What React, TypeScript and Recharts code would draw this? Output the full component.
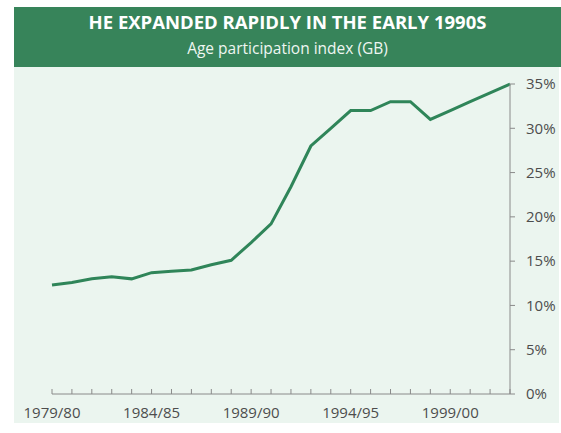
import { CartesianGrid, Line, LineChart, XAxis, YAxis } from 'recharts'

const years = [
  '1979/80', '1980/81', '1981/82', '1982/83', '1983/84', '1984/85', '1985/86', '1986/87',
  '1987/88', '1988/89', '1989/90', '1990/91', '1991/92', '1992/93', '1993/94', '1994/95',
  '1995/96', '1996/97', '1997/98', '1998/99', '1999/00', '2000/01', '2001/02', '2002/03',
]
const api = [
  12.3, 12.6, 13.0, 13.25, 13.0, 13.7, 13.85, 14.0, 14.6, 15.1, 17.1, 19.2,
  23.4, 28.0, 30.0, 32.0, 32.0, 33.0, 33.0, 31.0, 32.0, 33.0, 34.0, 35.0,
]
const yTicks = [0, 5, 10, 15, 20, 25, 30, 35]
const labelledYears = ['1979/80', '1984/85', '1989/90', '1994/95', '1999/00']

const theme = {
  header: '#37845a',
  panel: '#ebf5ef',
  line: '#2f8559',
  axis: '#8a8a8a',
  text: '#4d4d4d',
  font: '"Open Sans", sans-serif',
}

const data = years.map((year, i) => ({ year, value: api[i] }))

function YearTick({ x, y, payload }: { x?: number; y?: number; payload?: { value: string } }) {
  if (x == null || y == null || !payload) return null
  const show = labelledYears.includes(payload.value)
  return (
    <g>
      <line x1={x} x2={x} y1={y} y2={y - 5} stroke={theme.axis} strokeWidth={1} />
      {show && (
        <text
          x={x}
          y={y + 18}
          textAnchor="middle"
          dominantBaseline="central"
          fill={theme.text}
          fontSize={15}
          fontFamily={theme.font}
        >
          {payload.value}
        </text>
      )}
    </g>
  )
}

export default function App() {
  return (
    <div style={{ position: 'absolute', left: 0, top: 0, width: 561, height: 433, background: '#fff' }}>
      <div
        style={{
          position: 'absolute',
          left: 14,
          top: 7,
          width: 547,
          height: 60,
          background: theme.header,
          color: '#fff',
          fontFamily: theme.font,
          textAlign: 'center',
        }}
      >
        <div style={{ position: 'absolute', left: 0, right: 0, top: 4, fontSize: 18.5, fontWeight: 700, lineHeight: '22px' }}>
          HE EXPANDED RAPIDLY IN THE EARLY 1990S
        </div>
        <div style={{ position: 'absolute', left: 0, right: 0, top: 31, fontSize: 15.5, lineHeight: '20px', color: '#eef6f1' }}>
          Age participation index (GB)
        </div>
      </div>
      <div style={{ position: 'absolute', left: 14, top: 67, width: 545, height: 356, background: theme.panel }}>
        <LineChart width={545} height={356} data={data} margin={{ top: 17, right: 4, left: 38, bottom: 4 }}>
          <CartesianGrid stroke="none" />
          <XAxis
            dataKey="year"
            interval={0}
            tickSize={0}
            tickMargin={0}
            height={25}
            axisLine={{ stroke: theme.axis }}
            tickLine={false}
            tick={<YearTick />}
          />
          <YAxis
            orientation="right"
            domain={[0, 35]}
            ticks={yTicks}
            width={45}
            tickSize={5}
            tickMargin={11}
            axisLine={{ stroke: theme.axis }}
            tickLine={{ stroke: theme.axis }}
            tickFormatter={(v: number) => `${v}%`}
            tick={{ fill: theme.text, fontSize: 15, fontFamily: theme.font }}
          />
          <Line
            type="linear"
            dataKey="value"
            stroke={theme.line}
            strokeWidth={3}
            dot={false}
            isAnimationActive={false}
          />
        </LineChart>
      </div>
    </div>
  )
}
